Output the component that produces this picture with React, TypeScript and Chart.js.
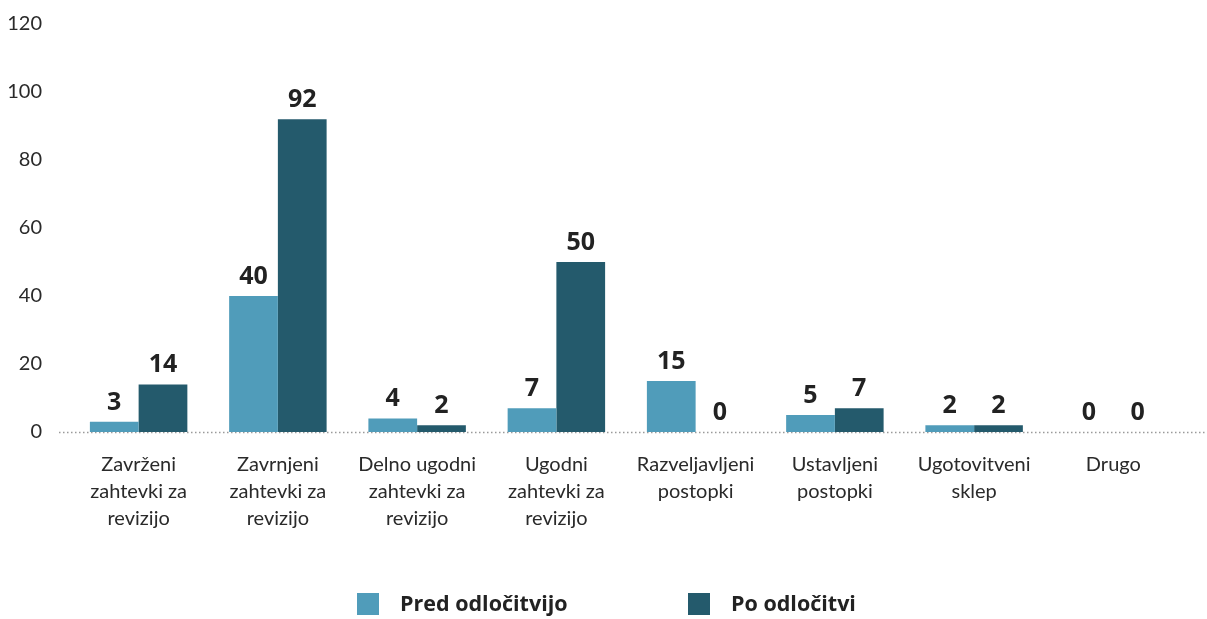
import React, { useEffect, useRef } from "react";
import { Chart, registerables } from "chart.js";

Chart.register(...registerables);

const categories: string[][] = [
  ["Zavrženi", "zahtevki za", "revizijo"],
  ["Zavrnjeni", "zahtevki za", "revizijo"],
  ["Delno ugodni", "zahtevki za", "revizijo"],
  ["Ugodni", "zahtevki za", "revizijo"],
  ["Razveljavljeni", "postopki"],
  ["Ustavljeni", "postopki"],
  ["Ugotovitveni", "sklep"],
  ["Drugo"],
];
const predValues = [3, 40, 4, 7, 15, 5, 2, 0];
const poValues = [14, 92, 2, 50, 0, 7, 2, 0];
const seriesNames = ["Pred odločitvijo", "Po odločitvi"];
const seriesColors = ["#509cba", "#245a6c"];
const yTicks = [0, 20, 40, 60, 80, 100, 120];

const FONT = "Lato, 'Open Sans', sans-serif";
const BOLD_FONT = "'Open Sans', Lato, sans-serif";

const extras = {
  id: "extras",
  beforeDatasetsDraw(chart: any) {
    const ctx = chart.ctx;
    const y = chart.scales.y.getPixelForValue(0) + 0.5;
    ctx.save();
    ctx.strokeStyle = "#9a9a9a";
    ctx.lineWidth = 1.5;
    ctx.setLineDash([1.5, 2.5]);
    ctx.beginPath();
    ctx.moveTo(59, y);
    ctx.lineTo(chart.width, y);
    ctx.stroke();
    ctx.restore();
  },
  afterDatasetsDraw(chart: any) {
    const ctx = chart.ctx;
    ctx.save();
    ctx.font = `bold 25px ${BOLD_FONT}`;
    ctx.fillStyle = "#222";
    ctx.textAlign = "center";
    ctx.textBaseline = "alphabetic";
    chart.data.datasets.forEach((ds: any, i: number) => {
      const meta = chart.getDatasetMeta(i);
      meta.data.forEach((bar: any, j: number) => {
        ctx.fillText(String(ds.data[j]), bar.x, bar.y - 12);
      });
    });
    // legend
    const items = chart.data.datasets.map((ds: any) => ({ label: ds.label, color: ds.backgroundColor }));
    const xs = [357, 688];
    ctx.font = `bold 21.5px ${BOLD_FONT}`;
    ctx.textAlign = "left";
    ctx.textBaseline = "middle";
    items.forEach((it: any, k: number) => {
      ctx.fillStyle = it.color;
      ctx.fillRect(xs[k], 593, 22, 22);
      ctx.fillStyle = "#222";
      ctx.fillText(it.label, xs[k] + 43, 605);
    });
    ctx.restore();
  },
};

export default function App() {
  const ref = useRef<HTMLCanvasElement | null>(null);
  useEffect(() => {
    if (!ref.current) return;
    const chart = new Chart(ref.current, {
      type: "bar",
      data: {
        labels: categories,
        datasets: [
          { label: seriesNames[0], data: predValues, backgroundColor: seriesColors[0], categoryPercentage: 0.7, barPercentage: 1 },
          { label: seriesNames[1], data: poValues, backgroundColor: seriesColors[1], categoryPercentage: 0.7, barPercentage: 1 },
        ],
      },
      options: {
        animation: false,
        responsive: false,
        maintainAspectRatio: false,
        layout: { padding: { top: 24, right: 24, bottom: 49, left: 0 } },
        plugins: { legend: { display: false }, tooltip: { enabled: false } },
        scales: {
          x: {
            grid: { display: false, drawTicks: false },
            border: { display: false },
            ticks: { color: "#2a2a2a", font: { family: FONT, size: 20, lineHeight: 1.35 }, padding: 19, maxRotation: 0, autoSkip: false },
            afterFit: (s: any) => { s.height = 138; s.paddingLeft = 0; s.paddingRight = 0; },
          },
          y: {
            min: 0,
            max: 120,
            afterBuildTicks: (s: any) => { s.ticks = yTicks.map((v) => ({ value: v })); },
            grid: { display: false, drawTicks: false },
            border: { display: false },
            ticks: { color: "#2a2a2a", font: { family: FONT, size: 20 }, padding: 27 },
            afterFit: (s: any) => { s.width = 69; s.paddingTop = 0; s.paddingBottom = 0; },
          },
        },
      },
      plugins: [extras],
    });
    return () => chart.destroy();
  }, []);
  return (
    <div style={{ position: "absolute", left: 0, top: 0, width: 1207, height: 619, background: "#fff" }}>
      <canvas ref={ref} width={1207} height={619} style={{ width: 1207, height: 619, display: "block" }} />
    </div>
  );
}
